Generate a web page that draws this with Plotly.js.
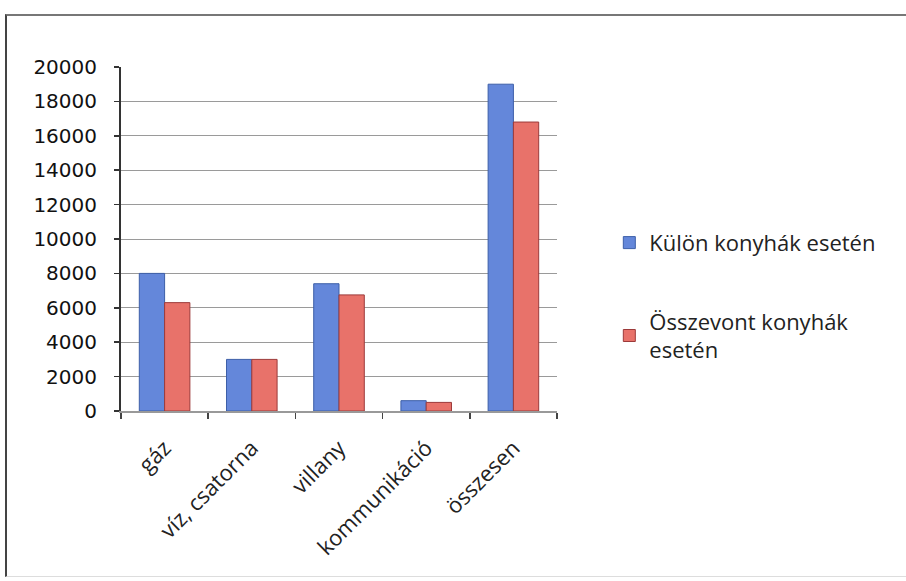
<!DOCTYPE html>
<html>
<head>
<meta charset="utf-8">
<script src="https://cdn.plot.ly/plotly-3.0.1.min.js"></script>
<style>
  html, body { margin: 0; padding: 0; background: #fff; }
  #frame { position: absolute; left: 5px; top: 14px; width: 905px; height: 563px;
           border-left: 2px solid #444; border-top: 2px solid #777; border-bottom: 1px solid #ddd; box-sizing: border-box; }
  #chart { position: absolute; left: 0; top: 0; width: 906px; height: 581px; }
</style>
</head>
<body>
<div id="frame"></div>
<div id="chart"></div>
<script>
const categories = ["gáz", "víz, csatorna", "villany", "kommunikáció", "összesen"];
const kulonValues = [8000, 3000, 7400, 600, 19000];
const osszevontValues = [6300, 3000, 6750, 500, 16800];
const seriesNames = ["Külön konyhák esetén", "Összevont konyhák<br>esetén"];
const yTickValues = [0, 2000, 4000, 6000, 8000, 10000, 12000, 14000, 16000, 18000, 20000];

const traces = [
  {
    type: "bar", name: seriesNames[0], x: categories, y: kulonValues,
    legendgroup: "a",
    marker: { color: "#6487da", line: { color: "#3d5fa8", width: 1 } }
  },
  {
    type: "bar", name: seriesNames[1], x: categories, y: osszevontValues,
    legendgroup: "b",
    marker: { color: "#e8726a", line: { color: "#9c3a3a", width: 1 } }
  }
];

const layout = {
  width: 906, height: 581,
  margin: { l: 121, r: 349, t: 67, b: 170 },
  paper_bgcolor: "rgba(0,0,0,0)",
  plot_bgcolor: "rgba(0,0,0,0)",
  barmode: "group",
  bargap: 0.42,
  bargroupgap: 0,
  showlegend: true,
  legend: {
    x: 1.12, xanchor: "left", y: 0.55, yanchor: "top",
    font: { family: "'Open Sans', Lato, sans-serif", size: 22, color: "#222" },
    traceorder: "grouped", tracegroupgap: 47,
    bgcolor: "rgba(0,0,0,0)"
  },
  xaxis: {
    type: "category",
    tickangle: -45,
    tickson: "boundaries",
    ticks: "outside", ticklen: 6, tickcolor: "#444", tickwidth: 1.5,
    showline: true, linecolor: "#999", linewidth: 1.5,
    showgrid: false,
    ticklabelstandoff: 14,
    tickfont: { family: "'Open Sans', Lato, sans-serif", size: 22, color: "#222" }
  },
  yaxis: {
    range: [0, 20000],
    tickvals: yTickValues,
    ticktext: yTickValues.map(String),
    ticks: "outside", ticklen: 5, tickcolor: "#333", tickwidth: 1.5,
    showline: true, linecolor: "#333", linewidth: 2,
    showgrid: true, gridcolor: "#9a9a9a", gridwidth: 1,
    zeroline: false,
    ticklabelstandoff: 13,
    tickfont: { family: "'DejaVu Sans', 'Liberation Sans', sans-serif", size: 20, color: "#111" }
  }
};

Plotly.newPlot("chart", traces, layout, { displayModeBar: false, staticPlot: true });
</script>
</body>
</html>
